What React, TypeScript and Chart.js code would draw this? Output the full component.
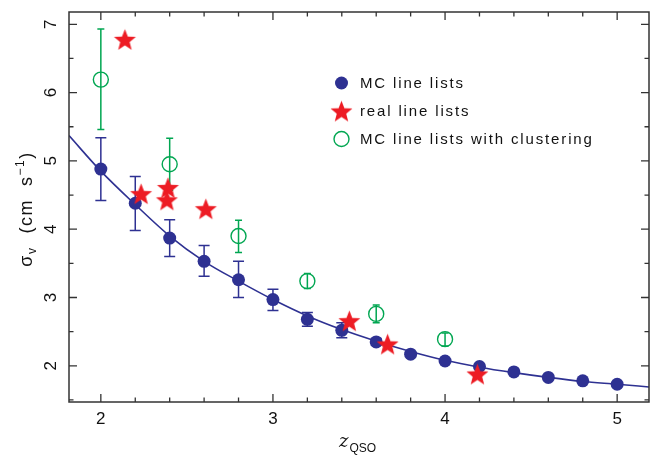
import React, { useEffect, useRef } from "react";
import { Chart, registerables } from "chart.js";

Chart.register(...registerables);

// ---------- data ----------
const mcZ = [2.0, 2.2, 2.4, 2.6, 2.8, 3.0, 3.2, 3.4, 3.6, 3.8, 4.0, 4.2, 4.4, 4.6, 4.8, 5.0];
const mcSigma = [4.88, 4.38, 3.87, 3.53, 3.26, 2.97, 2.68, 2.52, 2.35, 2.17, 2.07, 1.99, 1.91, 1.83, 1.78, 1.73];
const mcHi = [5.34, 4.77, 4.14, 3.76, 3.53, 3.12, 2.78, 2.63, 2.40, null, null, null, null, null, null, null];
const mcLo = [4.42, 3.98, 3.60, 3.31, 3.00, 2.81, 2.58, 2.41, 2.30, null, null, null, null, null, null, null];

const realZ = [2.14, 2.234, 2.39, 2.384, 2.61, 3.444, 3.666, 4.188];
const realSigma = [6.78, 4.52, 4.61, 4.43, 4.30, 2.66, 2.32, 1.88];

const clusZ = [2.0, 2.4, 2.8, 3.2, 3.6, 4.0];
const clusSigma = [6.19, 4.95, 3.90, 3.24, 2.76, 2.39];
const clusHi = [6.93, 5.33, 4.13, 3.35, 2.89, 2.48];
const clusLo = [5.46, 4.57, 3.66, 3.13, 2.63, 2.29];

const fitZ = [1.815, 2.0, 2.2, 2.4, 2.6, 2.8, 3.0, 3.2, 3.4, 3.6, 3.8, 4.0, 4.2, 4.4, 4.6, 4.8, 5.0, 5.185];
const fitSigma = [5.37, 4.85, 4.36, 3.90, 3.53, 3.24, 2.97, 2.73, 2.53, 2.36, 2.21, 2.08, 1.98, 1.90, 1.83, 1.77, 1.73, 1.69];

const xMajor = [2, 3, 4, 5];
const xMinor = [2.2, 2.4, 2.6, 2.8, 3.2, 3.4, 3.6, 3.8, 4.2, 4.4, 4.6, 4.8];
const yMajor = [2, 3, 4, 5, 6, 7];
const yMinor = [1.5, 2.5, 3.5, 4.5, 5.5, 6.5];

const legendLabels = ["MC line lists", "real line lists", "MC line lists with clustering"];

const BLUE = "#2e3192";
const RED = "#ed1c24";
const GREEN = "#00a651";
const AXIS = "#333333";

function makeStar(r: number, color: string) {
  const s = Math.ceil(r * 2 + 2);
  const c = document.createElement("canvas");
  c.width = s;
  c.height = s;
  const ctx = c.getContext("2d")!;
  ctx.fillStyle = color;
  ctx.beginPath();
  const cx = s / 2;
  const cy = s / 2 + r * 0.1;
  for (let i = 0; i < 10; i++) {
    const rad = i % 2 === 0 ? r : r * 0.43;
    const a = -Math.PI / 2 + (i * Math.PI) / 5;
    ctx.lineTo(cx + rad * Math.cos(a), cy + rad * Math.sin(a));
  }
  ctx.closePath();
  ctx.fill();
  return c;
}

export default function App() {
  const ref = useRef<HTMLCanvasElement>(null);

  useEffect(() => {
    const star = makeStar(11.5, RED);

    const decor = {
      id: "decor",
      beforeDatasetsDraw(chart: any) {
        const ctx = chart.ctx;
        const xs = chart.scales.x;
        const ys = chart.scales.y;
        const bars = (zs: number[], hi: (number | null)[], lo: (number | null)[], color: string, cap: number, lw: number) => {
          ctx.save();
          ctx.strokeStyle = color;
          ctx.lineWidth = lw;
          zs.forEach((z, i) => {
            const h = hi[i];
            const l = lo[i];
            if (h == null || l == null) return;
            const px = xs.getPixelForValue(z);
            const py1 = ys.getPixelForValue(h);
            const py2 = ys.getPixelForValue(l);
            ctx.beginPath();
            ctx.moveTo(px, py1);
            ctx.lineTo(px, py2);
            ctx.moveTo(px - cap, py1);
            ctx.lineTo(px + cap, py1);
            ctx.moveTo(px - cap, py2);
            ctx.lineTo(px + cap, py2);
            ctx.stroke();
          });
          ctx.restore();
        };
        bars(clusZ, clusHi, clusLo, GREEN, 3.5, 1.5);
        bars(mcZ, mcHi, mcLo, BLUE, 5.5, 1.5);
      },
      afterDraw(chart: any) {
        const ctx = chart.ctx;
        const a = chart.chartArea;
        const xs = chart.scales.x;
        const ys = chart.scales.y;
        ctx.save();
        // box
        ctx.strokeStyle = AXIS;
        ctx.lineWidth = 1.5;
        ctx.strokeRect(a.left, a.top, a.right - a.left, a.bottom - a.top);
        // ticks
        ctx.lineWidth = 1.3;
        ctx.beginPath();
        const xt = (v: number, len: number) => {
          const p = xs.getPixelForValue(v);
          ctx.moveTo(p, a.bottom);
          ctx.lineTo(p, a.bottom - len);
          ctx.moveTo(p, a.top);
          ctx.lineTo(p, a.top + len);
        };
        const yt = (v: number, len: number) => {
          const p = ys.getPixelForValue(v);
          ctx.moveTo(a.left, p);
          ctx.lineTo(a.left + len, p);
          ctx.moveTo(a.right, p);
          ctx.lineTo(a.right - len, p);
        };
        xMajor.forEach((v) => xt(v, 8));
        xMinor.forEach((v) => xt(v, 4.5));
        yMajor.forEach((v) => yt(v, 8));
        yMinor.forEach((v) => yt(v, 4.5));
        ctx.stroke();

        // tick labels
        ctx.fillStyle = "#111";
        ctx.font = "17px 'Liberation Sans', Arial, sans-serif";
        ctx.textAlign = "center";
        ctx.textBaseline = "middle";
        xMajor.forEach((v) => {
          ctx.fillText(String(v), xs.getPixelForValue(v), a.bottom + 17);
        });
        yMajor.forEach((v) => {
          ctx.save();
          ctx.translate(a.left - 18, ys.getPixelForValue(v));
          ctx.rotate(-Math.PI / 2);
          ctx.fillText(String(v), 0, 0);
          ctx.restore();
        });

        // y title: sigma_v (cm s^-1)
        ctx.save();
        ctx.translate(26, (a.top + a.bottom) / 2 + 2);
        ctx.rotate(-Math.PI / 2);
        ctx.letterSpacing = "1.5px";
        const big = "18px 'Liberation Sans', Arial, sans-serif";
        const small = "12px 'Liberation Sans', Arial, sans-serif";
        const segs: [string, string, number][] = [
          ["σ", big, 0],
          ["v", small, 4],
          ["  (cm  s", big, 0],
          ["−1", small, -8],
          [")", big, 0],
        ];
        ctx.textAlign = "left";
        ctx.textBaseline = "alphabetic";
        let total = 0;
        segs.forEach(([t, f]) => {
          ctx.font = f;
          total += ctx.measureText(t).width;
        });
        let cx = -total / 2;
        segs.forEach(([t, f, dy]) => {
          ctx.font = f;
          ctx.fillText(t, cx, 6 + dy);
          cx += ctx.measureText(t).width;
        });
        ctx.restore();

        // x title: z_QSO
        ctx.save();
        ctx.textAlign = "left";
        ctx.textBaseline = "alphabetic";
        const zf = "italic 18px 'DejaVu Serif', serif";
        const qf = "12px 'Liberation Sans', Arial, sans-serif";
        ctx.font = zf;
        const wz = ctx.measureText("z").width;
        ctx.font = qf;
        const wq = ctx.measureText("QSO").width;
        let sx = (a.left + a.right) / 2 - (wz + wq) / 2 - 2;
        ctx.font = zf;
        ctx.fillText("z", sx, 447);
        ctx.font = qf;
        ctx.fillText("QSO", sx + wz + 1, 452);
        ctx.restore();

        // legend
        const lx = 341.5;
        const tx = 360;
        const rows = [83, 111, 139];
        ctx.font = "15px 'Liberation Sans', Arial, sans-serif";
        ctx.letterSpacing = "1.85px";
        ctx.textAlign = "left";
        ctx.textBaseline = "middle";
        // row 1
        ctx.fillStyle = BLUE;
        ctx.beginPath();
        ctx.arc(lx, rows[0], 6.5, 0, Math.PI * 2);
        ctx.fill();
        // row 2
        ctx.drawImage(star, lx - star.width / 2, rows[1] - star.height / 2);
        // row 3
        ctx.strokeStyle = GREEN;
        ctx.lineWidth = 1.4;
        ctx.beginPath();
        ctx.arc(lx, rows[2], 7.5, 0, Math.PI * 2);
        ctx.stroke();
        ctx.fillStyle = "#111";
        legendLabels.forEach((t, i) => ctx.fillText(t, tx, rows[i] + 1));
        ctx.letterSpacing = "0px";
        ctx.restore();
      },
    };

    const chart = new Chart(ref.current!, {
      type: "scatter",
      data: {
        datasets: [
          {
            label: legendLabels[1],
            data: realZ.map((z, i) => ({ x: z, y: realSigma[i] })),
            pointStyle: star as any,
            pointRadius: 11,
          },
          {
            label: legendLabels[0],
            data: mcZ.map((z, i) => ({ x: z, y: mcSigma[i] })),
            pointStyle: "circle",
            pointRadius: 6.5,
            backgroundColor: BLUE,
            borderColor: BLUE,
            borderWidth: 0,
          },
          {
            label: legendLabels[2],
            data: clusZ.map((z, i) => ({ x: z, y: clusSigma[i] })),
            pointStyle: "circle",
            pointRadius: 7.5,
            backgroundColor: "rgba(0,0,0,0)",
            borderColor: GREEN,
            borderWidth: 1.4,
          },
          {
            label: "fit",
            data: fitZ.map((z, i) => ({ x: z, y: fitSigma[i] })),
            showLine: true,
            pointRadius: 0,
            borderColor: BLUE,
            borderWidth: 1.6,
            cubicInterpolationMode: "monotone",
          } as any,
        ],
      },
      options: {
        animation: false,
        responsive: false,
        maintainAspectRatio: false,
        layout: { padding: { left: 69, right: 16, top: 8, bottom: 66 } },
        plugins: { legend: { display: false }, tooltip: { enabled: false } },
        scales: {
          x: { type: "linear", display: false, min: 1.815, max: 5.185 },
          y: { type: "linear", display: false, min: 1.47, max: 7.18 },
        },
      },
      plugins: [decor],
    });
    return () => chart.destroy();
  }, []);

  return (
    <div style={{ position: "fixed", left: 0, top: 0, width: 665, height: 468, background: "#fff" }}>
      <canvas ref={ref} width={665} height={468} />
    </div>
  );
}
